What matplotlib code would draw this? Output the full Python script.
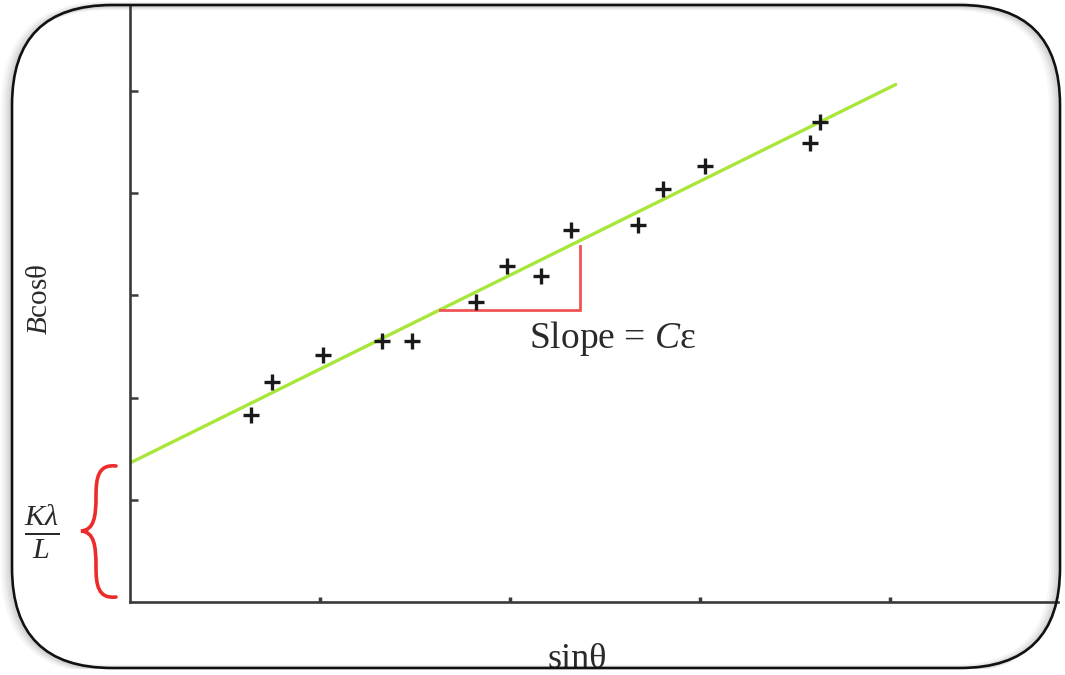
import matplotlib
matplotlib.use("Agg")
import matplotlib.pyplot as plt
import numpy as np
from matplotlib.patches import FancyBboxPatch, PathPatch
from matplotlib.path import Path

plt.rcParams['font.family'] = ['Liberation Serif', 'DejaVu Serif']
plt.rcParams['mathtext.fontset'] = 'custom'
plt.rcParams['mathtext.rm'] = 'Liberation Serif'
plt.rcParams['mathtext.it'] = 'Liberation Serif:italic'

# ---- data ----
sin_theta = [0.637, 0.747, 1.016, 1.326, 1.484, 1.821, 1.984, 2.163,
             2.321, 2.674, 2.805, 3.026, 3.579, 3.632]
b_cos_theta = [1.83, 2.15, 2.42, 2.55, 2.55, 2.94, 3.29, 3.19,
               3.64, 3.69, 4.04, 4.27, 4.49, 4.70]
fit_intercept = 1.36
fit_slope = 0.919
fit_x = [0.01, 4.03]
slope_tri_x = [1.63, 2.37]
x_ticks = [1, 2, 3, 4]
y_ticks = [1, 2, 3, 4, 5]

TXT = '#2a2a2a'
AX = '#3a3a3a'

fig = plt.figure(figsize=(10.65, 6.75), dpi=100)

# overlay in pixel coordinates for frame decorations
ov = fig.add_axes([0, 0, 1, 1], zorder=0)
ov.set_xlim(0, 1065)
ov.set_ylim(675, 0)
ov.axis('off')

# soft shadow (mostly on the left)
for i, a in enumerate([0.06, 0.05, 0.04, 0.03]):
    sh = FancyBboxPatch((12 - 2 - i * 1.5, 5 + 1), 1048, 663,
                        boxstyle="round,pad=0,rounding_size=100",
                        fc='none', ec='black', lw=2 + i * 1.5, alpha=a)
    ov.add_patch(sh)

# main axes
ax = fig.add_axes([130 / 1065, 73 / 675, 928 / 1065, 597 / 675], zorder=1)
ax.patch.set_alpha(0)
ax.set_xlim(0, 928 / 190)
ax.set_ylim(0, 597 / 102.2)
for s in ['top', 'right']:
    ax.spines[s].set_visible(False)
for s in ['left', 'bottom']:
    ax.spines[s].set_color(AX)
    ax.spines[s].set_linewidth(1.9)
ax.set_xticks(x_ticks)
ax.set_yticks(y_ticks)
ax.set_xticklabels([])
ax.set_yticklabels([])
ax.tick_params(axis='y', direction='in', length=6, width=1.8, color=AX)
ax.tick_params(axis='x', direction='in', length=3.5, width=2.5, color=AX)

fx = np.array(fit_x)
ax.plot(fx, fit_intercept + fit_slope * fx, color='#a8e63a', lw=2.4,
        solid_capstyle='round', zorder=2)

ax.plot(sin_theta, b_cos_theta, linestyle='none', marker='+',
        markersize=12, mew=2.4, color='#1a1a1a', zorder=3)

# slope triangle
tx0, tx1 = slope_tri_x
y_base = fit_intercept + fit_slope * tx0
y_top = fit_intercept + fit_slope * tx1 - 0.05
ax.plot([tx0, tx1, tx1], [y_base, y_base, y_top], color='#f05454', lw=2.0,
        solid_joinstyle='miter', zorder=2)

ax.text(2.1, 2.58, r'Slope = $C$ε', fontsize=27, color=TXT,
        ha='left', va='center')

# axis labels
fig.text(577 / 1065, 1 - 659 / 675, 'sinθ', fontsize=26, color=TXT,
         ha='center', va='center')
fig.text(40 / 1065, 1 - 299 / 675, r'$B$cosθ', fontsize=21, color=TXT,
         rotation=90, ha='center', va='center')
fig.text(42 / 1065, 1 - 532 / 675, r'$\frac{K\lambda}{L}$', fontsize=31,
         color=TXT, ha='center', va='center')

# red curly brace (pixel coords)
xr, xt = 116, 81
yt, yb, ym = 466, 597, 531
verts = [(xr, yt), (xr - 18, yt - 2), (xr - 20, yt + 12), (xr - 20, yt + 30),
         (xr - 20, ym - 14), (xr - 22, ym - 1), (xt, ym),
         (xr - 22, ym + 1), (xr - 20, ym + 14), (xr - 20, yb - 30),
         (xr - 20, yb - 12), (xr - 18, yb + 2), (xr, yb)]
codes = [Path.MOVETO] + [Path.CURVE4] * 12
ov.add_patch(PathPatch(Path(verts, codes), fc='none', ec='#ee2b2b', lw=2.6,
                       capstyle='round'))

# border on top
top = fig.add_axes([0, 0, 1, 1], zorder=5)
top.set_xlim(0, 1065)
top.set_ylim(675, 0)
top.axis('off')
top.patch.set_alpha(0)
border = FancyBboxPatch((12, 5), 1048, 663,
                        boxstyle="round,pad=0,rounding_size=100",
                        fc='none', ec='#111111', lw=1.9)
top.add_patch(border)
# white outside the border below, clipping the sinθ text
top.fill_between([0, 1065], 669, 675, color='white', zorder=0)

fig.savefig('out.png', dpi=100, facecolor='white')
